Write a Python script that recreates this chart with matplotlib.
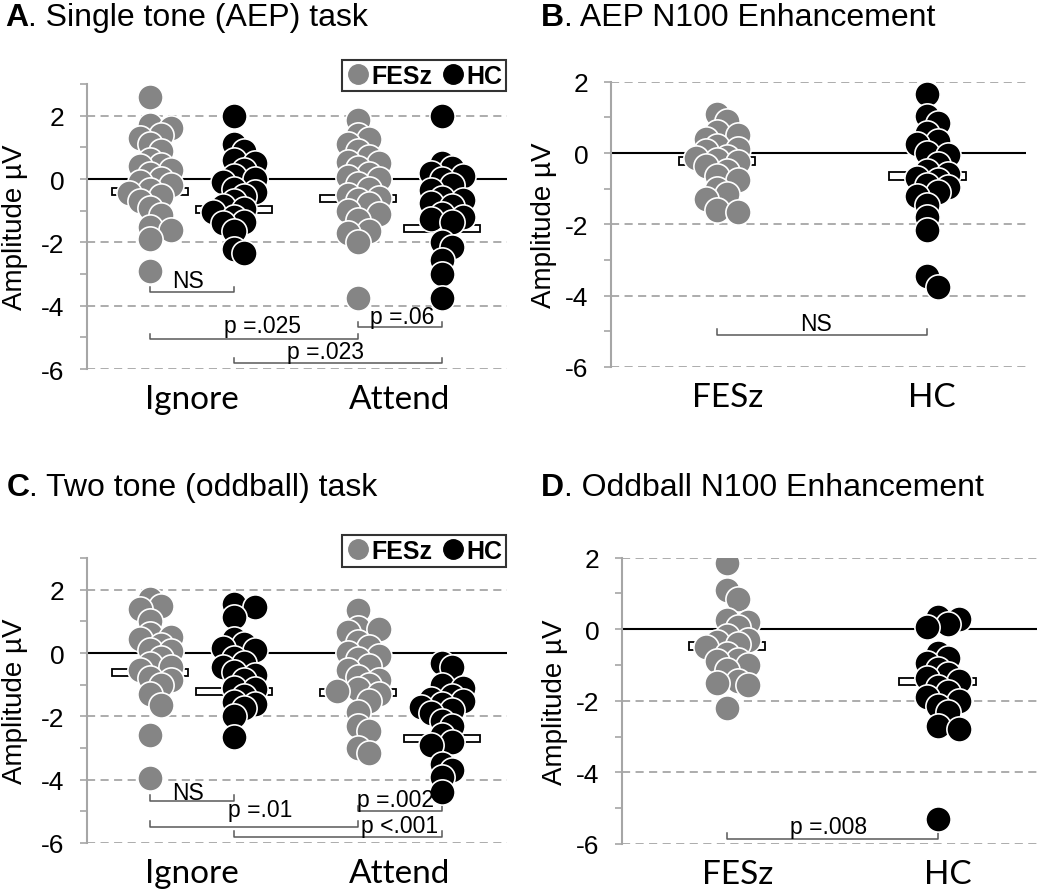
import numpy as np
import matplotlib.pyplot as plt
from matplotlib.patches import Rectangle
from matplotlib.lines import Line2D

plt.rcParams['font.family'] = ['Liberation Sans', 'DejaVu Sans']
plt.rcParams['axes.unicode_minus'] = False

GRAY = '#858585'
GRID = '#a6a6a6'

# ---- data (amplitude, uV) ----
# A: single tone task
a_ign_fesz = [2.6, 1.7, 1.6, 1.4, 1.3, 1.1, 0.9, 0.6, 0.45, 0.4, 0.3, 0.15, 0.0, -0.1, -0.2,
              -0.35, -0.45, -0.55, -0.7, -0.9, -1.15, -1.5, -1.6, -1.9, -2.9]
a_ign_hc = [2.0, 1.1, 0.9, 0.6, 0.5, 0.3, 0.1, 0.0, -0.1, -0.3, -0.4, -0.55, -0.7, -0.85,
            -0.95, -1.05, -1.2, -1.35, -1.4, -1.65, -2.2, -2.35]
a_att_fesz = [1.85, 1.4, 1.25, 1.1, 0.9, 0.7, 0.55, 0.5, 0.35, 0.15, 0.05, 0.0, -0.15, -0.3,
              -0.5, -0.6, -0.65, -0.8, -1.0, -1.1, -1.3, -1.65, -1.7, -2.0, -3.75]
a_att_hc = [2.0, 0.5, 0.35, 0.2, 0.1, 0.0, -0.2, -0.35, -0.6, -0.65, -0.75, -0.85, -1.1, -1.2,
            -1.25, -1.35, -2.0, -2.15, -2.55, -3.0, -3.75]
a_means = [-0.4, -0.97, -0.63, -1.55]

# B: AEP N100 enhancement
b_fesz = [1.1, 0.9, 0.6, 0.5, 0.4, 0.2, 0.1, 0.05, -0.1, -0.15, -0.2, -0.25, -0.35, -0.5,
          -0.65, -0.75, -1.0, -1.15, -1.3, -1.6, -1.65]
b_hc = [1.65, 1.05, 0.85, 0.55, 0.35, 0.25, 0.0, -0.05, -0.3, -0.5, -0.6, -0.7, -0.75, -0.9,
        -0.95, -1.1, -1.2, -1.45, -1.8, -2.15, -3.45, -3.75]
b_means = [-0.22, -0.65]

# C: two tone (oddball) task
c_ign_fesz = [1.7, 1.5, 1.4, 1.0, 0.6, 0.5, 0.45, 0.25, 0.1, 0.05, -0.15, -0.35, -0.45, -0.55,
              -0.8, -0.85, -1.0, -1.3, -1.65, -2.6, -3.95]
c_ign_hc = [1.55, 1.45, 1.15, 0.45, 0.3, 0.15, 0.1, -0.15, -0.3, -0.45, -0.6, -0.7, -0.85,
            -1.1, -1.15, -1.35, -1.55, -1.6, -1.75, -2.0, -2.65]
c_att_fesz = [1.35, 0.8, 0.75, 0.65, 0.35, 0.2, 0.0, -0.1, -0.2, -0.4, -0.55, -0.75, -0.85,
              -1.0, -1.15, -1.2, -1.3, -1.5, -1.85, -2.3, -2.45, -3.0, -3.15]
c_att_hc = [-0.3, -0.45, -1.0, -1.1, -1.35, -1.45, -1.5, -1.6, -1.7, -1.8, -1.9, -2.15, -2.3,
            -2.6, -2.8, -2.9, -3.5, -3.7, -3.9, -4.4]
c_means = [-0.61, -1.23, -1.24, -2.69]

# D: oddball N100 enhancement
d_fesz = [1.85, 1.1, 0.85, 0.25, 0.2, 0.05, -0.2, -0.3, -0.35, -0.4, -0.5, -0.7, -0.85, -0.9,
          -1.0, -1.15, -1.45, -1.5, -1.55, -2.2]
d_hc = [0.35, 0.3, 0.15, 0.05, -0.65, -0.8, -0.95, -1.1, -1.25, -1.35, -1.45, -1.6, -1.75,
        -1.9, -2.0, -2.15, -2.3, -2.7, -2.8, -5.3]
d_means = [-0.47, -1.46]

task_labels = ['Ignore', 'Attend']
group_labels = ['FESz', 'HC']

# brackets: (x1, x2, y, text, text x, text baseline)
a_brackets = [(0.8, 1.2, -3.58, 'NS', 0.98, -3.42), (0.8, 1.8, -5.05, 'p =.025', 1.34, -4.82),
              (1.8, 2.2, -4.68, 'p =.06', 2.01, -4.55), (1.2, 2.2, -5.82, 'p =.023', 1.64, -5.66)]
b_brackets = [(1.0, 2.0, -5.1, 'NS', 1.47, -4.96)]
c_brackets = [(0.8, 1.2, -4.66, 'NS', 0.98, -4.6), (0.8, 1.8, -5.48, 'p =.01', 1.33, -5.14),
              (1.8, 2.2, -5.0, 'p =.002', 1.98, -4.84), (1.2, 2.2, -5.8, 'p <.001', 2.0, -5.64)]
d_brackets = [(1.0, 2.0, -5.86, 'p =.008', 1.48, -5.69)]

fig = plt.figure(figsize=(10.5, 8.95), dpi=100)
W, H = 1050, 895


def px_axes(x0, y0, x1, y1):
    return fig.add_axes([x0 / W, 1 - y1 / H, (x1 - x0) / W, (y1 - y0) / H])


def setup(ax, ytop, xlim, xticks, xlabels, ylab_x):
    ax.set_xlim(xlim)
    ax.set_ylim(-6, ytop)
    for s in ['top', 'right', 'bottom']:
        ax.spines[s].set_visible(False)
    ax.spines['left'].set_color(GRID)
    ax.spines['left'].set_linewidth(1.5)
    ax.set_yticks([-6, -4, -2, 0, 2])
    ax.set_yticks(list(range(-5, ytop + 1, 2)), minor=True)
    ax.tick_params(axis='y', which='both', length=5, width=1.2, color=GRID,
                   labelsize=19, pad=11)
    for v in [-6, -4, -2, 2]:
        ax.axhline(v, color=GRID, lw=1.3, ls=(0, (4.5, 3)), zorder=0)
    ax.axhline(0, color='black', lw=1.5, zorder=1)
    ax.set_xticks(xticks)
    ax.set_xticklabels(xlabels, fontfamily='Lato', fontsize=24)
    ax.tick_params(axis='x', length=0, pad=11)
    ax.set_ylabel('Amplitude µV', fontsize=20)
    ax.yaxis.set_label_coords(ylab_x, 0.5)


def swarm(ax, x0, vals, dmin=11.5, step=10.5):
    # simple beeswarm in pixel space, at most two columns either side
    vals = np.asarray(vals, dtype=float)
    pts = ax.transData.transform(np.column_stack([np.full(len(vals), x0), vals]))
    xs = np.zeros(len(vals))
    placed = []
    for i in np.argsort(-vals):
        px, py = pts[i]
        best, best_d = px, -1
        for k in [0, 1, -1, 2, -2]:
            cx = px + k * step
            d = min([np.hypot(cx - qx, py - qy) for qx, qy in placed] or [99])
            if d >= dmin:
                best = cx
                break
            if d > best_d:
                best, best_d = cx, d
        placed.append((best, py))
        xs[i] = best
    return ax.transData.inverted().transform(np.column_stack([xs, pts[:, 1]]))[:, 0]


def group(ax, x0, vals, mean, color, w=0.365):
    ax.add_patch(Rectangle((x0 - w / 2, mean - 0.11), w, 0.22, facecolor='white',
                           edgecolor='black', lw=1.3, zorder=2))
    xs = swarm(ax, x0, vals)
    ax.scatter(xs, vals, s=330, color=color, edgecolor='white', linewidth=1.2, zorder=3)


def brackets(ax, items, size=16.5):
    for x1, x2, y, txt, tx, ty in items:
        ax.plot([x1, x1, x2, x2], [y + 0.17, y, y, y + 0.17], color='#595959', lw=1.1,
                zorder=1)
        ax.text(tx, ty, txt, ha='center', va='baseline', fontsize=size)


def legend(ax, top):
    handles = [Line2D([], [], ls='', marker='o', ms=14, color=GRAY),
               Line2D([], [], ls='', marker='o', ms=14, color='black')]
    leg = ax.legend(handles, group_labels, ncol=2, loc='upper right',
                    bbox_to_anchor=(0.998, top), borderaxespad=0,
                    prop={'weight': 'bold', 'size': 18}, frameon=True, fancybox=False,
                    borderpad=0.15, handletextpad=0.05, columnspacing=0.3, handlelength=1.0)
    leg.get_frame().set_edgecolor('black')
    leg.get_frame().set_linewidth(1.5)


def title(x, y, letter, rest):
    t = fig.text(x, y, letter, fontsize=23, weight='bold', va='bottom')
    plt.annotate(rest, xy=(1, 0), xycoords=t, fontsize=23, va='bottom')


# ---- panel A ----
axA = px_axes(86.7, 85, 507, 370)
setup(axA, 3, (0.494, 2.514), [1, 2], task_labels, -0.14)
for x0, v, m, c in zip([0.8, 1.2, 1.8, 2.2], [a_ign_fesz, a_ign_hc, a_att_fesz, a_att_hc],
                       a_means, [GRAY, 'black', GRAY, 'black']):
    group(axA, x0, v, m, c)
brackets(axA, a_brackets)
legend(axA, 1.085)

# ---- panel B ----
axB = px_axes(610.7, 82.7, 1026, 368)
setup(axB, 2, (0.495, 2.47), [1.05, 2.02], group_labels, -0.13)
for x0, v, m, c in zip([1, 2], [b_fesz, b_hc], b_means, [GRAY, 'black']):
    group(axB, x0, v, m, c)
brackets(axB, b_brackets)

# ---- panel C ----
axC = px_axes(86.7, 559, 507, 844)
setup(axC, 3, (0.494, 2.514), [1, 2], task_labels, -0.14)
for x0, v, m, c in zip([0.8, 1.2, 1.8, 2.2], [c_ign_fesz, c_ign_hc, c_att_fesz, c_att_hc],
                       c_means, [GRAY, 'black', GRAY, 'black']):
    group(axC, x0, v, m, c)
brackets(axC, c_brackets)
legend(axC, 1.08)

# ---- panel D ----
axD = px_axes(621.7, 558.7, 1036.7, 845)
setup(axD, 2, (0.5, 2.47), [1.05, 2.05], group_labels, -0.13)
for x0, v, m, c in zip([1, 2], [d_fesz, d_hc], d_means, [GRAY, 'black']):
    group(axD, x0, v, m, c)
brackets(axD, d_brackets)

title(0.005, 0.963, 'A', '. Single tone (AEP) task')
title(0.515, 0.963, 'B', '. AEP N100 Enhancement')
title(0.006, 0.438, 'C', '. Two tone (oddball) task')
title(0.515, 0.438, 'D', '. Oddball N100 Enhancement')

fig.savefig('out.png', dpi=100)
